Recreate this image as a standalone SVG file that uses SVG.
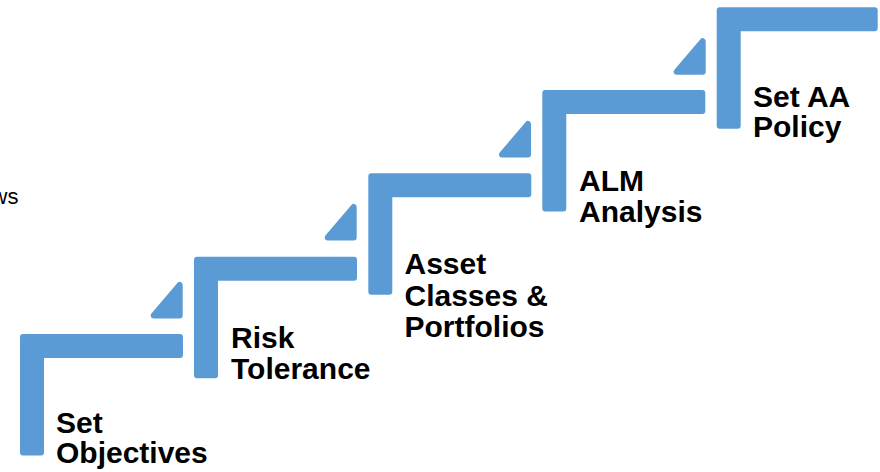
<svg xmlns="http://www.w3.org/2000/svg" xmlns:xlink="http://www.w3.org/1999/xlink" width="880" height="472" viewBox="0 0 880 472">
  <style>
    .bar { fill: #5B9BD5; stroke: #5B9BD5; stroke-width: 6; stroke-linejoin: round; }
    .label { font-family: "Liberation Sans", Arial, sans-serif; font-size: 30px; font-weight: bold; fill: #000000; }
    .side { font-family: "Liberation Sans", Arial, sans-serif; font-size: 22px; fill: #000000; }
  </style>
  <defs>
    <!-- L-shaped step: horizontal tread with a vertical riser on its left, corners softened by the stroke -->
    <path id="step" d="M3 3 H160 V21 H21 V118.5 H3 Z"/>
    <path id="stepShort" d="M3 3 H158 V21 H21 V118.5 H3 Z"/>
    <!-- small wedge sitting on the right end of each tread -->
    <path id="wedge" d="M-3 3 V33.5 H-29 Z"/>
  </defs>

  <rect width="880" height="472" fill="#ffffff"/>

  <text class="side" x="18.5" y="203.5" text-anchor="end">ws</text>

  <g id="wedges">
    <use xlink:href="#wedge" class="bar" x="182.7" y="282"/>
    <use xlink:href="#wedge" class="bar" x="356.7" y="204"/>
    <use xlink:href="#wedge" class="bar" x="531" y="121"/>
    <use xlink:href="#wedge" class="bar" x="705.7" y="38.3"/>
  </g>

  <g id="set-objectives">
    <use xlink:href="#step" class="bar" x="20" y="334"/>
    <text class="label" x="56" y="432.7">Set</text>
    <text class="label" x="56" y="463.3">Objectives</text>
  </g>

  <g id="risk-tolerance">
    <use xlink:href="#step" class="bar" x="194" y="256.7"/>
    <text class="label" x="231" y="348.3">Risk</text>
    <text class="label" x="231" y="379.3">Tolerance</text>
  </g>

  <g id="asset-classes">
    <use xlink:href="#step" class="bar" x="368.3" y="173.3"/>
    <text class="label" x="404.5" y="273.5">Asset</text>
    <text class="label" x="404.5" y="305.5">Classes &amp;</text>
    <text class="label" x="404.5" y="336.7">Portfolios</text>
  </g>

  <g id="alm-analysis">
    <use xlink:href="#step" class="bar" x="542.3" y="90"/>
    <text class="label" x="579" y="191">ALM</text>
    <text class="label" x="579" y="221.7">Analysis</text>
  </g>

  <g id="set-aa-policy">
    <use xlink:href="#stepShort" class="bar" x="716.7" y="7.3"/>
    <text class="label" x="753" y="106.7">Set AA</text>
    <text class="label" x="753" y="136.7">Policy</text>
  </g>
</svg>
